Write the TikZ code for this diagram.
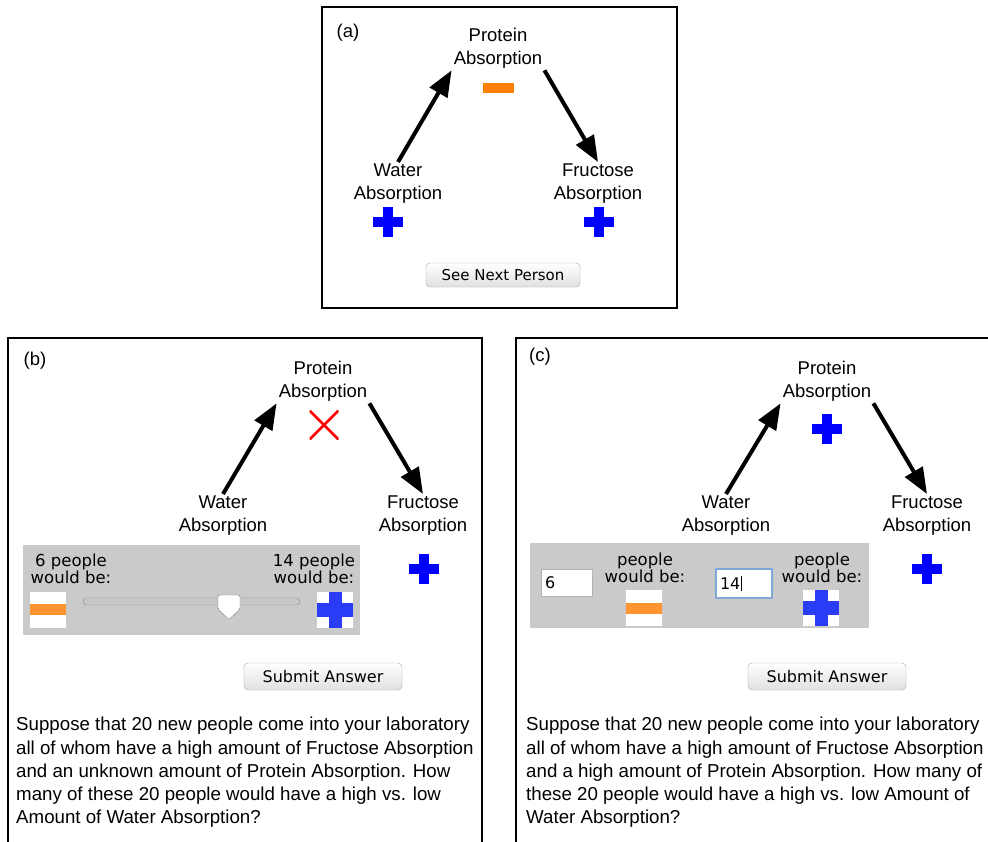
\documentclass[tikz,border=0pt]{standalone}
\usepackage{fontspec}
\setmainfont{Liberation Sans}
\newfontfamily\uifont{DejaVu Sans}
\usepackage{tikz}
\usetikzlibrary{arrows.meta,positioning}

\definecolor{plusblue}{HTML}{0000FF}
\definecolor{boxblue}{HTML}{2A3CF5}
\definecolor{minusorange}{HTML}{FF8000}
\definecolor{boxorange}{HTML}{FF9430}
\definecolor{panelgray}{HTML}{CACACA}
\definecolor{focusblue}{HTML}{7FA8D8}

\begin{document}
\begin{tikzpicture}[
  x=1pt, y=-1pt,
  font=\fontsize{18.5}{23}\selectfont,
  var/.style={align=center, inner sep=2pt},
  tag/.style={inner sep=0pt},
  arr/.style={-{Triangle[length=26pt,width=20pt]}, line width=4pt},
  frame/.style={draw, line width=2pt},
  minus/.style={fill=minusorange, minimum width=31pt, minimum height=10pt, inner sep=0pt},
  bigplus/.style={minimum size=30pt, inner sep=0pt, path picture={
    \fill[plusblue] ([xshift=-5pt]path picture bounding box.north) rectangle ([xshift=5pt]path picture bounding box.south);
    \fill[plusblue] ([yshift=5pt]path picture bounding box.west) rectangle ([yshift=-5pt]path picture bounding box.east);}},
  boxplus/.style={fill=white, minimum size=36pt, inner sep=0pt, path picture={
    \fill[boxblue] ([xshift=-6.5pt]path picture bounding box.north) rectangle ([xshift=6.5pt]path picture bounding box.south);
    \fill[boxblue] ([yshift=7pt]path picture bounding box.west) rectangle ([yshift=-7pt]path picture bounding box.east);}},
  boxminus/.style={fill=white, minimum size=36pt, inner sep=0pt, path picture={
    \fill[boxorange] ([yshift=5.5pt]path picture bounding box.west) rectangle ([yshift=-5.5pt]path picture bounding box.east);}},
  cross/.style={minimum size=29pt, inner sep=0pt, path picture={
    \draw[red, line width=2.5pt] (path picture bounding box.north west) -- (path picture bounding box.south east);
    \draw[red, line width=2.5pt] (path picture bounding box.north east) -- (path picture bounding box.south west);}},
  button/.style={draw=black!35, rounded corners=4pt, top color=white, bottom color=black!12,
    font=\uifont\fontsize{16}{18}\selectfont, minimum width=158pt, minimum height=27pt, inner sep=0pt},
  uitext/.style={align=center, inner sep=0pt, font=\uifont\fontsize{16.5}{17}\selectfont},
  field/.style={fill=white, draw=black!30, align=left, inner sep=4pt, text width=43pt,
    minimum height=27pt, font=\uifont\fontsize{16}{17}\selectfont},
  question/.style={align=left, inner sep=0pt, anchor=north west, font=\fontsize{18.7}{23.3}\selectfont}
]
\clip (0,0) rectangle (988,841);
\fill[white] (0,0) rectangle (988,841);

% (a)
\draw[frame] (322,7) rectangle (677,308);
\node[tag] (tagA) at (348,33) {(a)};
\node[var] (protA) at (498,48) {Protein\\Absorption};
\node[var] (watA) at (398,184) {Water\\Absorption};
\node[var] (fruA) at (598,184) {Fructose\\Absorption};
\node[minus] (minA) at (498,88) {};
\node[bigplus] (plwA) at (388,222) {};
\node[bigplus] (plfA) at (599,222) {};
\node[button, minimum width=154pt, minimum height=24pt, font=\uifont\fontsize{15}{18}\selectfont] (nextA) at (503,275) {See Next Person};
\draw[arr] (watA.north) -- (protA.south west);
\draw[arr] (protA.south east) -- (fruA.north);

% (b)
\draw[frame] (8,338) rectangle (482,870);
\node[tag] (tagB) at (35,361) {(b)};
\node[var] (protB) at (323,381) {Protein\\Absorption};
\node[var] (watB) at (223,516) {Water\\Absorption};
\node[var] (fruB) at (423,516) {Fructose\\Absorption};
\node[cross] (xB) at (324,425) {};
\draw[arr] (watB.north) -- (protB.south west);
\draw[arr] (protB.south east) -- (fruB.north);
\fill[panelgray] (23,545) rectangle (360,635);
\node[uitext] (lowB) at (71,569) {6 people\\would be:};
\node[uitext] (highB) at (314,569) {14 people\\would be:};
\node[boxminus] (minB) at (48,609.5) {};
\node[boxplus] (plB) at (335,609.5) {};
\node[draw=black!45, fill=black!22, rounded corners=3.5pt, minimum width=217pt, minimum height=7pt, inner sep=0pt] (trackB) at (191.5,601.5) {};
\filldraw[fill=white, draw=black!50, rounded corners=1.5pt] (218,595) -- (240,595) -- (240,609) -- (229,619.5) -- (218,609) -- cycle;
\node[bigplus] (plfB) at (424,569) {};
\node[button] (subB) at (323,676.5) {Submit Answer};
\node[question] (qB) at (16,717) {Suppose that 20 new people come into your laboratory\\
all of whom have a high amount of Fructose Absorption\\
and an unknown amount of Protein Absorption. How\\
many of these 20 people would have a high vs. low\\
Amount of Water Absorption?};

% (c)
\draw[frame] (516,338) rectangle (1000,870);
\node[tag] (tagC) at (540,357) {(c)};
\node[var] (protC) at (827,381) {Protein\\Absorption};
\node[var] (watC) at (726,516) {Water\\Absorption};
\node[var] (fruC) at (927,516) {Fructose\\Absorption};
\node[bigplus] (plpC) at (827,429) {};
\draw[arr] (watC.north) -- (protC.south west);
\draw[arr] (protC.south east) -- (fruC.north);
\fill[panelgray] (530,543) rectangle (869,628);
\node[field] (lowC) at (566.5,582.5) {6};
\node[uitext] (lowtxtC) at (645,568) {people\\would be:};
\node[boxminus] (minC) at (644,608) {};
\node[field, draw=focusblue, line width=2.5pt, text width=48pt, minimum height=29pt] (highC) at (744,583.5) {14\kern0.5pt\rule[-2pt]{1pt}{15pt}};
\node[uitext] (hightxtC) at (822,568) {people\\would be:};
\node[boxplus] (plC) at (821,608) {};
\node[bigplus] (plfC) at (927,569) {};
\node[button] (subC) at (827,676.5) {Submit Answer};
\node[question] (qC) at (526,717) {Suppose that 20 new people come into your laboratory\\
all of whom have a high amount of Fructose Absorption\\
and a high amount of Protein Absorption. How many of\\
these 20 people would have a high vs. low Amount of\\
Water Absorption?};
\end{tikzpicture}
\end{document}
